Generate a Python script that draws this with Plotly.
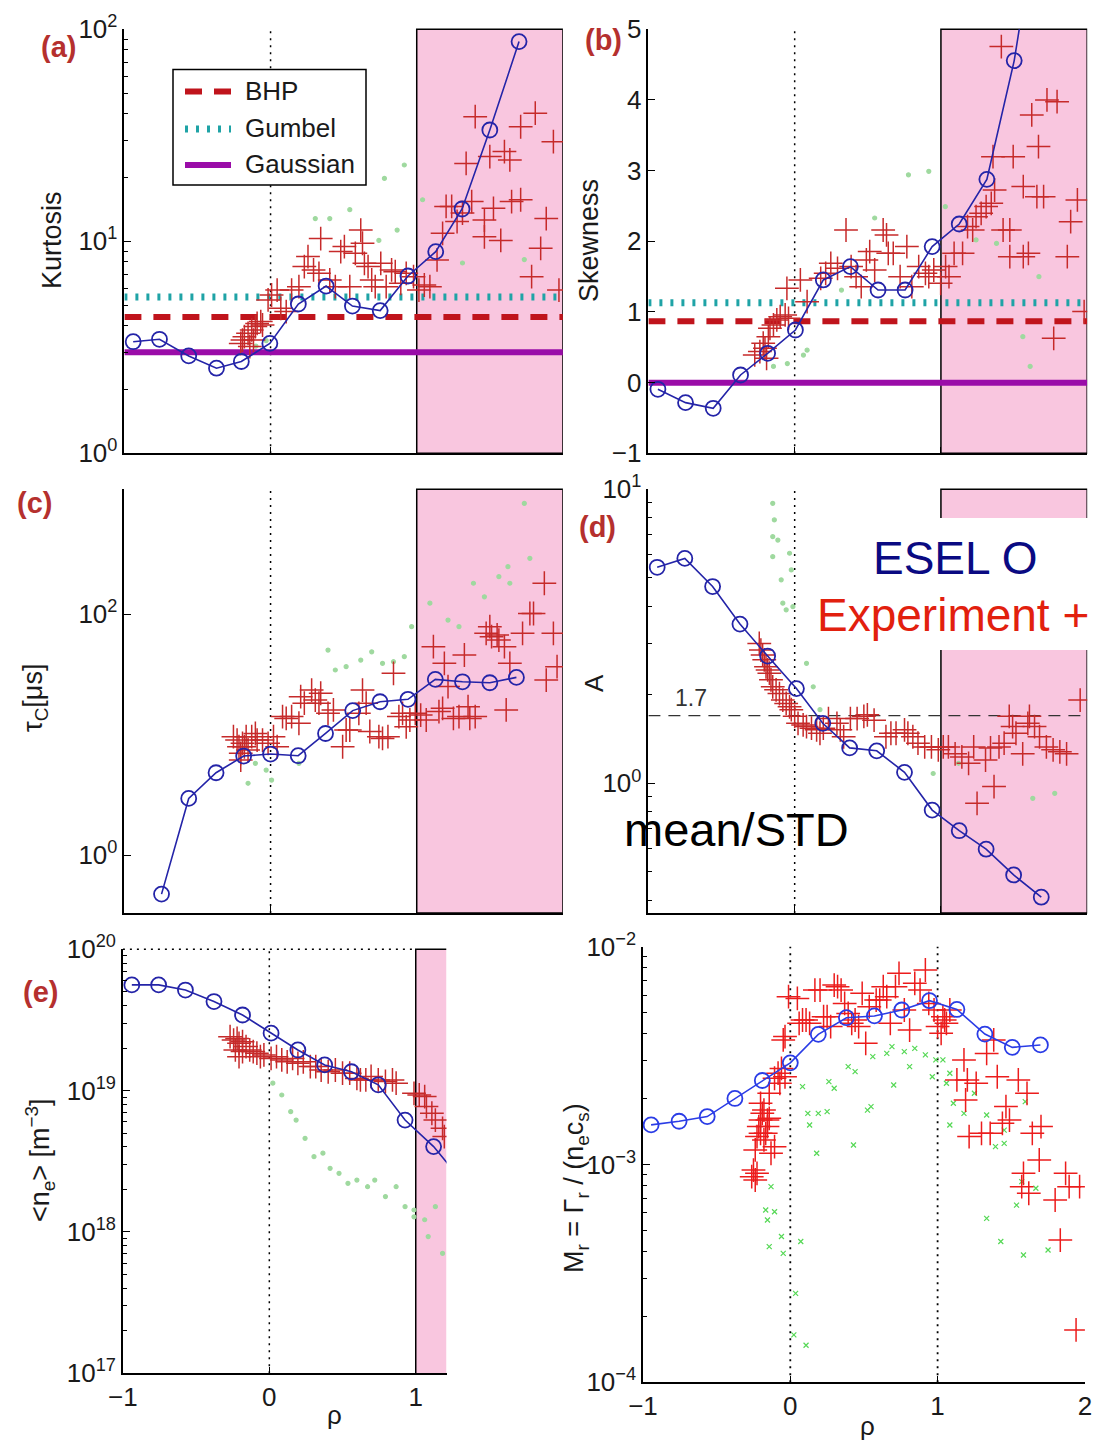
import plotly.graph_objects as go

W, H = 1100, 1440
FONT = "Liberation Sans, Arial, sans-serif"

# ---------------- (a) Kurtosis ----------------
a_esel_x = [-0.94, -0.76, -0.56, -0.37, -0.20, -0.005, 0.19, 0.38, 0.56, 0.75, 0.94, 1.13, 1.31, 1.50, 1.70]
a_esel_y = [3.36, 3.45, 2.88, 2.52, 2.71, 3.30, 5.06, 6.15, 4.95, 4.71, 6.86, 8.94, 14.2, 33.5, 87.5]
a_exp_x = [-0.204, -0.192, -0.179, -0.154, -0.129, -0.104, -0.092, -0.067, -0.117, -0.142, -0.055, -0.017, 0.007,
           0.045, 0.070, 0.107, 0.144, 0.194, 0.231, 0.256, 0.294, 0.331, 0.343, 0.405, 0.443, 0.480, 0.505, 0.542,
           0.580, 0.617, 0.629, 0.642, 0.667, 0.692, 0.716, 0.754, 0.791, 0.828, 0.853, 0.891, 0.928, 0.978, 1.015,
           1.052, 1.090, 1.139, 1.177, 1.201, 1.239, 1.276, 1.313, 1.338, 1.376, 1.400, 1.463, 1.500, 1.525, 1.463,
           1.575, 1.600, 1.637, 1.649, 1.711, 1.711, 1.786, 1.811, 1.848, 1.886, 1.935, 1.973]
a_exp_y = [3.30, 3.42, 3.55, 3.68, 3.82, 3.96, 4.10, 4.18, 3.42, 3.19, 4.03, 5.29, 5.58,
           5.89, 4.83, 4.66, 5.89, 6.11, 7.60, 8.47, 7.33, 7.06, 10.3, 6.57, 6.11, 8.94, 9.44, 6.11,
           8.78, 11.3, 9.79, 7.87, 7.60, 6.57, 6.11, 7.87, 6.11, 7.33, 7.19, 6.34, 7.06, 6.81, 5.89,
           6.22, 6.11, 8.17, 10.9, 14.6, 14.6, 12.4, 13.6, 23.3, 15.4, 38.7, 12.6, 25.1, 14.3, 10.5,
           10.1, 26.5, 24.2, 15.4, 15.7, 34.7, 6.81, 40.2, 9.27, 12.8, 29.5, 5.89]
a_other_x = [0.306, 0.405, 0.542, 0.779, 0.915, 1.040, 0.866, 0.741, 1.313, 1.736, -0.03, -0.10]
a_other_y = [12.8, 12.8, 14.1, 19.8, 22.9, 15.7, 11.3, 10.1, 7.9, 8.2, 3.4, 3.2]
a_bhp, a_gumbel, a_gauss = 4.39, 5.46, 3.0
legend_names = ["BHP", "Gumbel", "Gaussian"]

# ---------------- (b) Skewness ----------------
b_esel_x = [-0.935, -0.746, -0.557, -0.370, -0.185, 0.005, 0.196, 0.381, 0.570, 0.755, 0.940, 1.125, 1.314, 1.501, 1.69]
b_esel_y = [-0.094, -0.283, -0.363, 0.108, 0.415, 0.745, 1.453, 1.642, 1.311, 1.311, 1.925, 2.245, 2.877, 4.557, 7.0]
b_exp_x = [-0.273, -0.238, -0.203, -0.180, -0.169, -0.145, -0.122, -0.099, -0.065, -0.042, -0.192, -0.215, -0.053,
           0.039, 0.085, 0.178, 0.212, 0.247, 0.293, 0.351, 0.386, 0.420, 0.455, 0.490, 0.513, 0.547, 0.605, 0.628,
           0.640, 0.674, 0.721, 0.767, 0.801, 0.848, 0.894, 0.917, 0.951, 0.998, 1.032, 1.055, 1.090, 1.148, 1.182,
           1.217, 1.240, 1.275, 1.309, 1.344, 1.367, 1.356, 1.413, 1.425, 1.471, 1.471, 1.494, 1.563, 1.563, 1.598,
           1.621, 1.656, 1.667, 1.702, 1.725, 1.794, 1.771, 1.864, 1.887, 1.933, 1.979]
b_exp_y = [0.392, 0.439, 0.486, 0.651, 0.769, 0.816, 0.887, 0.934, 0.958, 0.910, 0.344, 0.557, 1.335,
           1.453, 1.146, 1.476, 1.547, 1.689, 1.618, 2.160, 1.642, 1.500, 1.358, 1.736, 1.854, 1.594, 2.160, 2.090,
           1.830, 1.830, 1.500, 1.925, 1.358, 1.642, 1.547, 1.500, 1.594, 1.406, 1.642, 1.500, 1.830, 1.830, 2.208,
           2.160, 2.349, 2.396, 2.491, 2.538, 2.726, 3.198, 4.755, 2.160, 2.160, 1.783, 3.198, 1.783, 2.774, 1.830,
           3.788, 2.632, 3.340, 2.632, 4.000, 3.976, 0.627, 1.783, 2.278, 2.585, 1.005]
b_other_x = [0.778, 0.917, 0.547, 1.03, 1.24, 1.38, 1.67, 1.61, -0.145, -0.05, 0.085, 0.06, 0.32, 1.56]
b_other_y = [2.94, 2.99, 2.33, 2.49, 2.02, 1.97, 1.50, 0.23, 0.23, 0.27, 0.46, 0.39, 1.31, 0.65]
b_bhp, b_gumbel, b_gauss = 0.87, 1.13, 0.0

# ---------------- (c) tau_C [us] ----------------
c_esel_x = [-0.746, -0.560, -0.373, -0.184, 0.000, 0.189, 0.376, 0.562, 0.749, 0.940, 1.127, 1.313, 1.500, 1.682]
c_esel_y = [0.474, 2.95, 4.82, 6.63, 6.89, 6.67, 10.2, 15.8, 18.7, 19.6, 28.7, 27.4, 26.9, 29.8]
c_exp_x = [-0.254, -0.229, -0.216, -0.204, -0.192, -0.179, -0.167, -0.154, -0.129, -0.104, -0.204, -0.092, -0.055,
           -0.017, 0.020, 0.045, 0.082, 0.107, 0.144, 0.194, 0.206, 0.231, 0.281, 0.306, 0.331, 0.343, 0.393, 0.430,
           0.493, 0.517, 0.542, 0.604, 0.629, 0.654, 0.679, 0.741, 0.766, 0.803, 0.841, 0.878, 0.903, 0.928, 0.953,
           0.990, 1.027, 1.065, 1.114, 1.152, 1.177, 1.189, 1.214, 1.251, 1.289, 1.326, 1.351, 1.363, 1.400, 1.475,
           1.500, 1.512, 1.550, 1.562, 1.600, 1.612, 1.637, 1.724, 1.774, 1.799, 1.873, 1.886, 1.935, 1.960]
c_exp_y = [9.60, 9.00, 7.92, 6.98, 8.45, 7.92, 9.60, 7.44, 9.60, 10.2, 6.14, 9.00, 9.00,
           8.45, 9.60, 7.92, 14.1, 13.6, 14.1, 12.4, 20.6, 18.2, 23.4, 19.3, 18.2, 22.0, 15.0, 16.0,
           7.92, 10.9, 10.9, 15.0, 23.4, 18.2, 10.6, 9.60, 9.29, 9.60, 32.2, 14.1, 15.0, 11.6, 13.2,
           15.0, 14.5, 13.2, 53.6, 15.5, 16.5, 39.0, 25.0, 13.6, 14.1, 45.7, 17.0, 13.6, 14.1, 69.2,
           78.5, 64.9, 67.0, 60.8, 53.6, 16.0, 39.0, 69.2, 101, 101, 180, 28.3, 69.2, 36.6]
c_other_x = [0.393, 0.443, 0.517, 0.617, 0.692, 0.766, 0.841, 0.915, 0.965, 1.090, 1.214, 1.289, 1.388, 1.463,
             1.562, 1.637, 1.736, 1.774, 1.624, -0.154, -0.104, 0.007, -0.03, 0.194]
c_other_y = [50.2, 34.3, 36.6, 41.5, 48.6, 39.0, 40.2, 44.3, 78.5, 123, 89.1, 78.5, 180, 139,
             204, 180, 828, 290, 247, 3.94, 5.77, 4.19, 5.07, 5.77]

# ---------------- (d) A = mean/STD ----------------
d_esel_x = [-0.940, -0.751, -0.561, -0.374, -0.185, 0.012, 0.192, 0.376, 0.561, 0.751, 0.940, 1.125, 1.309, 1.497, 1.686]
d_esel_y = [5.43, 5.82, 4.67, 3.48, 2.71, 2.10, 1.60, 1.32, 1.29, 1.09, 0.811, 0.690, 0.597, 0.488, 0.410]
d_exp_x = [-0.242, -0.231, -0.219, -0.208, -0.196, -0.185, -0.173, -0.162, -0.150, -0.127, -0.104, -0.081, -0.058,
           -0.035, -0.023, 0.000, 0.023, 0.058, 0.081, 0.115, 0.150, 0.173, 0.196, 0.231, 0.289, 0.312, 0.335, 0.381,
           0.427, 0.473, 0.497, 0.543, 0.624, 0.658, 0.693, 0.751, 0.774, 0.808, 0.843, 0.889, 0.935, 0.982, 1.016,
           1.051, 1.097, 1.143, 1.189, 1.224, 1.247, 1.305, 1.339, 1.363, 1.397, 1.432, 1.467, 1.490, 1.513, 1.559,
           1.594, 1.605, 1.640, 1.674, 1.721, 1.767, 1.813, 1.859, 1.952]
d_exp_y = [2.99, 2.84, 2.73, 2.63, 2.49, 2.43, 2.37, 2.25, 2.13, 2.08, 2.02, 1.92, 1.87,
           1.82, 1.78, 1.69, 1.60, 1.58, 1.56, 1.54, 1.52, 1.48, 1.54, 1.66, 1.60, 1.52, 1.44, 1.66,
           1.66, 1.69, 1.71, 1.64, 1.44, 1.48, 1.48, 1.52, 1.48, 1.44, 1.37, 1.33, 1.33, 1.30, 1.33,
           1.33, 1.26, 1.23, 1.17, 1.33, 0.855, 1.20, 1.32, 0.975, 1.33, 1.37, 1.69, 1.56, 1.48, 1.26,
           1.60, 1.69, 1.56, 1.44, 1.33, 1.30, 1.28, 1.26, 1.92]
d_other_x = [-0.150, -0.139, -0.115, -0.150, -0.092, -0.035, -0.023, -0.012, -0.058, 0.081, 0.127, 0.173,
             0.947, 1.628, 1.778, 1.120, -0.15, -0.081]
d_other_y = [8.96, 7.87, 6.72, 5.90, 4.92, 6.06, 5.32, 3.99, 3.89, 2.56, 2.13, 1.78,
             1.08, 0.889, 0.925, 1.17, 6.9, 4.1]
d_ref_level = 1.7

# ---------------- (e) <n_e> [m^-3], values in units of 1e19 ----------------
e_esel_x = [-0.939, -0.756, -0.573, -0.378, -0.183, 0.012, 0.195, 0.378, 0.561, 0.744, 0.927, 1.122, 1.31]
e_esel_y = [5.60, 5.60, 5.15, 4.27, 3.43, 2.55, 1.94, 1.52, 1.36, 1.10, 0.619, 0.402, 0.234]
e_exp_x = [-0.268, -0.244, -0.220, -0.207, -0.183, -0.159, -0.134, -0.110, -0.085, -0.061, -0.037, 0.012, 0.049,
           0.085, 0.122, 0.159, 0.195, 0.232, 0.280, 0.317, 0.354, 0.402, 0.451, 0.500, 0.549, 0.598, 0.622, 0.659,
           0.695, 0.744, 0.793, 0.841, 0.866, 0.988, 1.024, 1.061, 1.073, 1.110, 1.134, 1.183, 1.195, -0.232,
           -0.207, -0.183]
e_exp_y = [2.41, 2.28, 2.34, 2.16, 2.22, 2.05, 1.94, 1.89, 1.84, 1.74, 1.79, 1.69, 1.74,
           1.65, 1.60, 1.69, 1.56, 1.60, 1.48, 1.48, 1.40, 1.36, 1.40, 1.33, 1.33, 1.22, 1.19, 1.19,
           1.26, 1.19, 1.16, 1.19, 1.13, 0.957, 0.931, 0.908, 0.771, 0.692, 0.619, 0.541, 0.473, 1.94,
           1.74, 1.89]
e_other_x = [0.024, 0.085, 0.146, 0.183, 0.244, 0.305, 0.366, 0.415, 0.476, 0.537, 0.598, 0.671, 0.720, 0.793,
             0.866, 0.927, 0.988, 1.061, 1.134, 1.183, 1.085, 0.988]
e_other_y = [1.13, 0.931, 0.710, 0.619, 0.460, 0.341, 0.361, 0.282, 0.260, 0.221, 0.233, 0.209, 0.233, 0.178,
             0.209, 0.151, 0.128, 0.122, 0.151, 0.0706, 0.0927, 0.143]
e_unit = 1e19

# ---------------- (f) M_r, values in units of 1e-3 ----------------
f_esel_x = [-0.945, -0.755, -0.564, -0.376, -0.190, 0.000, 0.190, 0.381, 0.571, 0.757, 0.945, 1.131, 1.321, 1.507, 1.698]
f_esel_y = [1.52, 1.58, 1.66, 2.01, 2.43, 2.93, 3.96, 4.72, 4.81, 5.12, 5.65, 5.15, 3.97, 3.45, 3.54]
f_exp_x = [-0.262, -0.250, -0.238, -0.226, -0.214, -0.202, -0.190, -0.179, -0.167, -0.155, -0.143, -0.202, -0.131,
           -0.107, -0.238, -0.226, -0.202, -0.179, -0.155, -0.143, -0.107, -0.083, -0.060, -0.036, -0.071, -0.048,
           -0.036, -0.012, 0.048, 0.060, 0.083, 0.107, 0.131, 0.167, 0.202, 0.226, 0.250, 0.274, 0.298, 0.321,
           0.345, 0.369, 0.393, 0.417, 0.440, 0.464, 0.488, 0.512, 0.536, 0.583, 0.607, 0.631, 0.655, 0.679,
           0.714, 0.738, 0.774, 0.810, 0.845, 0.881, 0.917, 0.940, 0.976, 1.000, 1.024, 1.036, 1.048, 1.060,
           1.083, 1.131, 1.179, 1.190, 1.202, 1.214, 1.262, 1.298, 1.333, 1.357, 1.381, 1.405, 1.440, 1.464,
           1.488, 1.548, 1.571, 1.583, 1.607, 1.619, 1.643, 1.690, 1.702, 1.798, 1.833, 1.869, 1.893, 1.940, 1.964]
f_exp_y = [0.879, 0.943, 1.166, 1.343, 1.493, 1.600, 1.718, 1.778, 1.390, 1.600, 1.630, 1.910, 1.126,
           1.207, 0.849, 0.911, 1.390, 1.296, 1.493, 2.123, 2.489, 2.625, 2.761, 2.529, 2.360, 3.733,
           3.866, 5.895, 5.789, 4.450, 4.607, 4.607, 4.450, 6.324, 6.324, 4.770, 4.770, 4.297, 6.668, 6.553,
           6.324, 5.492, 4.941, 4.450, 4.607, 4.297, 6.106, 3.600, 5.305, 5.690, 5.690, 6.553, 5.895, 4.450,
           6.553, 7.546, 5.121, 4.143, 6.787, 6.324, 7.815, 5.492, 5.121, 4.297, 4.000, 4.770, 4.607, 4.450,
           5.121, 2.444, 3.020, 1.978, 2.444, 1.343, 2.360, 1.390, 3.236, 1.390, 3.733, 2.529, 1.546, 1.845,
           1.600, 2.444, 0.791, 0.911, 2.123, 0.738, 1.390, 1.049, 1.493, 0.687, 0.450, 0.911, 0.791, 0.174, 0.791]
f_other_x = [-0.131, -0.167, -0.155, -0.107, -0.143, -0.060, 0.071, -0.048, 0.036, 0.024, 0.107, 0.119, 0.131,
             0.179, 0.190, 0.250, 0.083, 0.262, 0.298, 0.393, 0.440, 0.524, 0.548, 0.429, 0.702, 0.560, 0.655,
             0.774, 0.845, 0.917, 0.810, 0.964, 1.036, 1.083, 1.060, 1.107, 1.083, 1.179, 1.250, 1.333, 1.393,
             1.452, 1.536, 1.571, 1.667, 1.583, 1.429, 1.333, 1.750, 1.595, 1.452, 0.690, 0.988]
f_other_y = [0.791, 0.618, 0.556, 0.607, 0.420, 0.467, 0.443, 0.391, 0.256, 0.165, 0.148, 1.718, 1.518,
             1.126, 1.718, 1.750, 2.277, 2.400, 2.239, 2.812, 2.668, 1.778, 1.845, 1.229, 2.317, 3.126, 3.236,
             3.296, 3.414, 3.184, 2.812, 2.529, 3.020, 2.625, 2.360, 1.910, 1.518, 1.718, 2.123, 1.688, 1.207,
             1.250, 0.651, 0.834, 0.778, 0.384, 0.443, 0.566, 0.405, 1.943, 1.439, 3.475, 3.020]
f_unit = 1e-3

# ---------------- layout helpers ----------------
def P(x):
    return x / W


def Q(y):
    return 1 - y / H


boxes = {
    1: ((124.4, 562.9), (29.3, 453.3)),
    2: ((648.4, 1087.2), (29.3, 453.3)),
    3: ((124.4, 562.9), (489.3, 913.0)),
    4: ((648.4, 1087.2), (489.3, 913.0)),
    5: ((122.9, 446.5), (949.3, 1373.3)),
    6: ((643.0, 1084.9), (946.7, 1382.3)),
}

BLUE = "#2424a8"
RED = "#c62a2a"
GREEN = "#9fd99f"
PINK = "#f9c6df"
LINE_STYLES = {
    "BHP": dict(color="#c0141c", width=6, dash="17px,12px"),
    "Gumbel": dict(color="#1fa3a6", width=7, dash="3px,8px"),
    "Gaussian": dict(color="#9a0ca8", width=6),
}

fig = go.Figure()


def sfx(n):
    return "" if n == 1 else str(n)


def add_data(n, ox, oy, rx, ry, bx, by, blue=BLUE, red=RED, green=GREEN, green_symbol="circle", scale=1.0):
    xa, ya = "x" + sfx(n), "y" + sfx(n)
    fig.add_trace(go.Scatter(x=ox, y=[v * scale for v in oy], mode="markers", xaxis=xa, yaxis=ya,
                             showlegend=False, cliponaxis=True,
                             marker=dict(symbol=green_symbol, size=4 if green_symbol == "circle" else 5,
                                         color=green, line=dict(color=green, width=1.2))))
    fig.add_trace(go.Scatter(x=rx, y=[v * scale for v in ry], mode="markers", xaxis=xa, yaxis=ya,
                             showlegend=False, cliponaxis=True,
                             marker=dict(symbol="cross-thin-open", size=17, color=red,
                                         line=dict(color=red, width=1.5))))
    fig.add_trace(go.Scatter(x=bx, y=[v * scale for v in by], mode="lines+markers", xaxis=xa, yaxis=ya,
                             showlegend=False, cliponaxis=True,
                             line=dict(color=blue, width=1.6),
                             marker=dict(symbol="circle-open", size=15, color=blue,
                                         line=dict(color=blue, width=1.8))))


def add_hlines(n, levels):
    xa, ya = "x" + sfx(n), "y" + sfx(n)
    for name, lev in zip(legend_names, levels):
        fig.add_trace(go.Scatter(x=[-1, 2], y=[lev, lev], mode="lines", name=name, xaxis=xa, yaxis=ya,
                                 showlegend=False, line=LINE_STYLES[name]))


add_hlines(1, [a_bhp, a_gumbel, a_gauss])
add_hlines(2, [b_bhp, b_gumbel, b_gauss])
add_data(1, a_other_x, a_other_y, a_exp_x, a_exp_y, a_esel_x, a_esel_y)
add_data(2, b_other_x, b_other_y, b_exp_x, b_exp_y, b_esel_x, b_esel_y)
add_data(3, c_other_x, c_other_y, c_exp_x, c_exp_y, c_esel_x, c_esel_y)
fig.add_trace(go.Scatter(x=[-1, 2], y=[d_ref_level, d_ref_level], mode="lines", xaxis="x4", yaxis="y4",
                         showlegend=False, line=dict(color="#333333", width=1.2, dash="12px,8px")))
add_data(4, d_other_x, d_other_y, d_exp_x, d_exp_y, d_esel_x, d_esel_y)
add_data(5, e_other_x, e_other_y, e_exp_x, e_exp_y, e_esel_x, e_esel_y, scale=e_unit)
add_data(6, f_other_x, f_other_y, f_exp_x, f_exp_y, f_esel_x, f_esel_y,
         blue="#2a3ce6", red="#ec1c1c", green="#55d855", green_symbol="x-thin-open", scale=f_unit)


def log_ticks(lo, hi, min_val=None):
    """Decade ticks (labelled) and minor ticks (unlabelled) for a log axis."""
    major, text, minor = [], [], []
    for e in range(lo, hi + 1):
        major.append(10.0 ** e)
        text.append("10<sup>%s</sup>" % str(e).replace("-", "\u2212"))
        if e < hi:
            for m in range(2, 10):
                v = m * 10.0 ** e
                if min_val is None or v >= min_val:
                    minor.append(v)
    return major, text, minor


axis_common = dict(showline=True, linecolor="black", linewidth=1.5, mirror=False, ticks="inside",
                   ticklen=7, tickwidth=1.2, tickcolor="black", showgrid=False, zeroline=False,
                   automargin=False,
                   tickfont=dict(family=FONT, size=26, color="#1a1a1a"), fixedrange=True)

layout = dict(width=W, height=H, margin=dict(l=0, r=0, t=0, b=0, pad=0, autoexpand=False), autosize=False,
              paper_bgcolor="white", plot_bgcolor="rgba(0,0,0,0)", font=dict(family=FONT),
              showlegend=False)

xranges = {1: [-1, 2], 2: [-1, 2], 3: [-1, 2], 4: [-1, 2], 5: [-1, 1.21], 6: [-1, 2]}
for n, ((x0, x1), (y0, y1)) in boxes.items():
    xa = dict(axis_common)
    xa.update(domain=[P(x0), P(x1)], range=xranges[n], anchor="y" + sfx(n))
    if n in (5, 6):
        xa.update(tickvals=[-1, 0, 1] if n == 5 else [-1, 0, 1, 2], showticklabels=True)
    else:
        xa.update(tickvals=[-1, 0, 1, 2], showticklabels=False)
    layout["xaxis" + sfx(n)] = xa

    ya = dict(axis_common)
    ya.update(domain=[Q(y1), Q(y0)], anchor="x" + sfx(n))
    layout["yaxis" + sfx(n)] = ya


def minor_spec(vals):
    return dict(tickmode="array", tickvals=vals, ticks="inside", ticklen=4, tickwidth=1,
                tickcolor="black", showgrid=False)


mj, tx, mn = log_ticks(0, 2)
layout["yaxis"].update(type="log", range=[0, 2], tickvals=mj, ticktext=tx, minor=minor_spec(mn))
layout["yaxis2"].update(range=[-1, 5], tickvals=[-1, 0, 1, 2, 3, 4, 5])
layout["yaxis3"].update(type="log", range=[-0.481, 3.035], tickvals=[1, 100],
                        ticktext=["10<sup>0</sup>", "10<sup>2</sup>"])
mj, tx, mn = log_ticks(0, 1, min_val=0.36)
mn = [v / 10 for v in range(4, 10)] + mn
layout["yaxis4"].update(type="log", range=[-0.441, 1], tickvals=mj, ticktext=tx, minor=minor_spec(mn))
mj, tx, mn = log_ticks(17, 20)
layout["yaxis5"].update(type="log", range=[17, 20], tickvals=mj, ticktext=tx, minor=minor_spec(mn))
mj, tx, mn = log_ticks(-4, -2)
layout["yaxis6"].update(type="log", range=[-4, -2], tickvals=mj, ticktext=tx, minor=minor_spec(mn))

fig.update_layout(**layout)

# ---------------- shapes ----------------
shapes = []
for n in (1, 2, 3, 4):
    shapes.append(dict(type="rect", xref="x" + sfx(n), yref="y%s domain" % sfx(n), x0=1, x1=2, y0=0, y1=1,
                       fillcolor=PINK, line=dict(color="black", width=1.5), layer="below"))
    shapes.append(dict(type="line", xref="x" + sfx(n), yref="y%s domain" % sfx(n), x0=0, x1=0, y0=0, y1=1,
                       line=dict(color="black", width=1.5, dash="2px,5px"), layer="below"))
shapes.append(dict(type="rect", xref="x5", yref="y5 domain", x0=1, x1=1.21, y0=0, y1=1,
                   fillcolor=PINK, line=dict(width=0), layer="below"))
shapes.append(dict(type="path", xref="x5", yref="y5 domain", path="M 1 0 L 1 1 L 1.21 1",
                   line=dict(color="black", width=1.5), layer="below"))
shapes.append(dict(type="line", xref="x5", yref="y5 domain", x0=-1, x1=1, y0=1, y1=1,
                   line=dict(color="black", width=1.5, dash="2px,5px"), layer="below"))
shapes.append(dict(type="line", xref="x5", yref="y5 domain", x0=0, x1=0, y0=0, y1=1,
                   line=dict(color="black", width=1.5, dash="2px,5px"), layer="below"))
for xv in (0, 1):
    shapes.append(dict(type="line", xref="x6", yref="y6 domain", x0=xv, x1=xv, y0=0, y1=1,
                       line=dict(color="black", width=1.8, dash="2px,5px"), layer="below"))
# white box behind the ESEL / Experiment label
shapes.append(dict(type="rect", xref="paper", yref="paper", x0=P(812), x1=P(1100), y0=Q(650), y1=Q(518),
                   fillcolor="white", line=dict(width=0), layer="above"))
# legend box of panel (a)
shapes.append(dict(type="rect", xref="paper", yref="paper", x0=P(173), x1=P(366), y0=Q(185), y1=Q(69.5),
                   fillcolor="white", line=dict(color="black", width=1.5), layer="above"))
legend_rows = [91.5, 129, 165]
for name, ly in zip(legend_names, legend_rows):
    shapes.append(dict(type="line", xref="paper", yref="paper", x0=P(185), x1=P(231), y0=Q(ly), y1=Q(ly),
                       line=LINE_STYLES[name], layer="above"))
fig.update_layout(shapes=shapes)

# ---------------- annotations ----------------
ann = []


def text(x, y, s, size=24, color="#1a1a1a", angle=0, bold=False, xanchor="center"):
    if bold:
        s = "<b>%s</b>" % s
    ann.append(dict(x=P(x), y=Q(y), xref="paper", yref="paper", text=s, showarrow=False,
                    textangle=angle, xanchor=xanchor, yanchor="middle",
                    font=dict(family=FONT, size=size, color=color)))


for name, ly in zip(legend_names, legend_rows):
    text(243, ly - 1, name, 26, xanchor="left")

LBL = "#b5302e"
text(58, 47, "(a)", 29, LBL, bold=True)
text(603, 40, "(b)", 29, LBL, bold=True)
text(35, 503, "(c)", 29, LBL, bold=True)
text(597, 527, "(d)", 29, LBL, bold=True)
text(40, 992, "(e)", 29, LBL, bold=True)

text(52, 240, "Kurtosis", 27, angle=-90)
text(589, 241, "Skewness", 27, angle=-90)
text(35, 698, "\u03c4<sub>C</sub>[\u03bcs]", 27, angle=-90)
text(594, 683, "A", 26, angle=-90)
text(40, 1160, "&lt;n<sub>e</sub>&gt; [m<sup>\u22123</sup>]", 27, angle=-90)
text(576, 1188, "M<sub>r</sub> = \u0393<sub>r</sub> / (n<sub>e</sub>c<sub>s</sub>)", 27, angle=-90)
text(334, 1415, "\u03c1", 26)
text(867, 1426, "\u03c1", 26)

text(691, 698, "1.7", 23, "#333333")
text(955, 558, "ESEL O", 46, "#0a0a82")
text(953, 615, "Experiment +", 46, "#e2200e")
text(736, 830, "mean/STD", 47, "#000000")

fig.update_layout(annotations=ann)

fig.write_html("out.html")
